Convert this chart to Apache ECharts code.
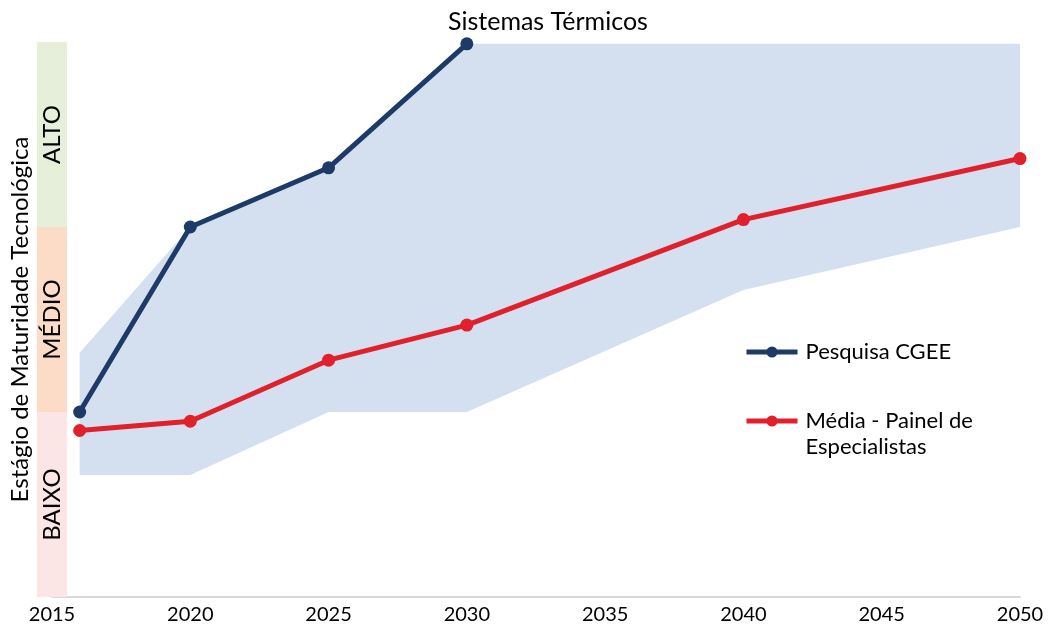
<!DOCTYPE html>
<html>
<head>
<meta charset="utf-8">
<script src="https://cdn.jsdelivr.net/npm/echarts@6/dist/echarts.min.js"></script>
<style>
  html, body { margin: 0; padding: 0; background: #fff; }
  #chart { width: 1048px; height: 632px; }
</style>
</head>
<body>
<div id="chart"></div>
<script>
// anos e valores (escala 0-3: baixo / médio / alto)
const years = [2016, 2020, 2025, 2030, 2040, 2050]
const cgee = [1.0, 2.0, 2.32, 2.99]
const painel = [0.9, 0.95, 1.28, 1.47, 2.04, 2.37]
const faixaMin = [0.66, 0.66, 1.0, 1.0, 1.66, 2.0]
const faixaMax = [1.32, 2.0, 2.32, 2.99, 2.99, 2.99]
const niveis = ["BAIXO", "MÉDIO", "ALTO"]
const coresNivel = ["#fbe5e5", "#fcdcc6", "#e6efda"]

const fonte = "Lato"
const pares = (ys) => ys.map((v, i) => [years[i], v])

let chart = echarts.init(document.getElementById("chart"))
let option = {
  animation: false,
  textStyle: { fontFamily: fonte },
  title: {
    text: "Sistemas Térmicos",
    left: 448,
    top: 9,
    padding: 0,
    textStyle: { fontSize: 25, fontWeight: "normal", color: "#000", fontFamily: fonte }
  },
  legend: [
    {
      orient: "vertical",
      left: 744,
      top: 339,
      padding: 0,
      itemWidth: 51,
      itemHeight: 14,
      lineStyle: { width: 5 },
      data: ["Pesquisa CGEE"],
      textStyle: { fontSize: 22, color: "#000", lineHeight: 26, padding: [0, 0, 0, 3], fontFamily: fonte }
    },
    {
      orient: "vertical",
      left: 744,
      top: 384,
      padding: 0,
      itemWidth: 51,
      itemHeight: 14,
      lineStyle: { width: 5 },
      data: ["Média - Painel de\nEspecialistas"],
      // linha vazia no topo para alinhar o ícone com a primeira linha do texto
      formatter: (name) => "{g| }\n" + name.split("\n").map((s) => "{a|" + s + "}").join("\n"),
      textStyle: {
        padding: [0, 0, 0, 3],
        rich: {
          g: { fontSize: 22, lineHeight: 26, fontFamily: fonte },
          a: { fontSize: 22, lineHeight: 26, color: "#000", fontFamily: fonte }
        }
      }
    }
  ],
  grid: [
    { left: 52, right: 28, top: 42, bottom: 35, containLabel: false, outerBoundsMode: "none" },
    { left: 37, width: 30, top: 42, bottom: 35, containLabel: false, outerBoundsMode: "none" }
  ],
  xAxis: [
    {
      type: "value",
      gridIndex: 0,
      min: 2015,
      max: 2050,
      interval: 5,
      splitLine: { show: false },
      axisTick: { show: false },
      axisLine: { show: true, lineStyle: { color: "#d9d9d9", width: 2 } },
      axisLabel: {
        color: "#000",
        fontSize: 20,
        margin: 8,
        fontFamily: fonte,
        formatter: (v) => String(v)
      }
    },
    {
      type: "category",
      gridIndex: 1,
      data: ["n"],
      show: false
    }
  ],
  yAxis: [
    {
      type: "value",
      gridIndex: 0,
      min: 0,
      max: 3,
      axisLabel: { show: false },
      axisLine: { show: false },
      axisTick: { show: false },
      splitLine: { show: false },
      name: "Estágio de Maturidade Tecnológica",
      nameLocation: "middle",
      nameGap: 20,
      nameTextStyle: { fontSize: 24, color: "#000", fontFamily: fonte }
    },
    {
      type: "value",
      gridIndex: 1,
      min: 0,
      max: 3,
      show: false
    }
  ],
  series: [
    // barras laterais com os níveis
    ...niveis.map((n, i) => ({
      name: n,
      type: "bar",
      xAxisIndex: 1,
      yAxisIndex: 1,
      stack: "niveis",
      barWidth: "100%",
      silent: true,
      itemStyle: { color: coresNivel[i] },
      label: {
        show: true,
        position: "inside",
        rotate: 90,
        formatter: n,
        fontSize: 24,
        color: "#000",
        fontFamily: fonte
      },
      data: [1]
    })),
    // faixa sombreada (polígono entre mínimo e máximo)
    {
      name: "faixa",
      type: "custom",
      silent: true,
      z: 1,
      data: years.map((y, i) => [y, faixaMin[i], faixaMax[i]]),
      renderItem: (params, api) => {
        if (params.dataIndex !== 0) return null
        let pts = []
        years.forEach((y, i) => pts.push(api.coord([y, faixaMin[i]])))
        for (let i = years.length - 1; i >= 0; i--) {
          pts.push(api.coord([years[i], faixaMax[i]]))
        }
        return {
          type: "polygon",
          shape: { points: pts },
          style: { fill: "#d4e0f0" }
        }
      }
    },
    {
      name: "Pesquisa CGEE",
      type: "line",
      symbol: "circle",
      symbolSize: 13,
      color: "#1e3a66",
      lineStyle: { width: 5 },
      z: 3,
      data: pares(cgee)
    },
    {
      name: "Média - Painel de\nEspecialistas",
      type: "line",
      symbol: "circle",
      symbolSize: 13,
      color: "#e0202a",
      lineStyle: { width: 5 },
      z: 3,
      data: pares(painel)
    }
  ]
}
chart.setOption(option)
window.addEventListener("resize", () => {
  chart.resize()
})
</script>
</body>
</html>
